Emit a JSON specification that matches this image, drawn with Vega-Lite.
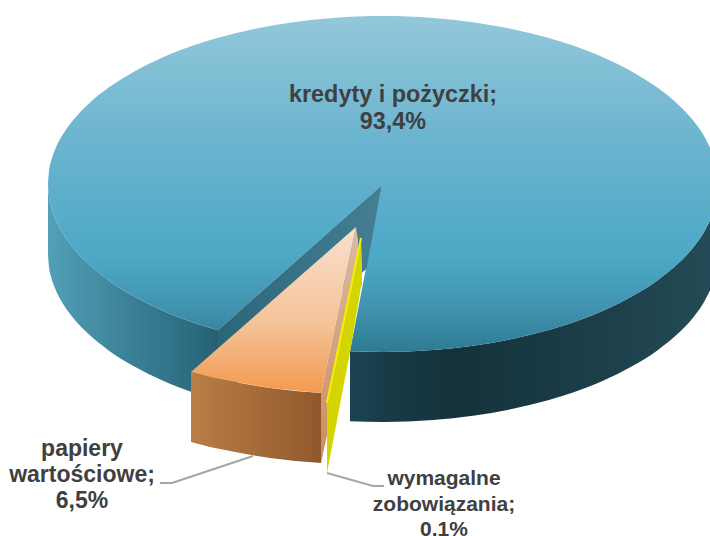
{
"$schema":"https://vega.github.io/schema/vega-lite/v6.json",
"width":710,"height":536,"padding":0,"autosize":{"type":"none"},"background":"white",
"config":{"view":{"stroke":null}},
"datasets":{
"leftWall":[{"x":48,"y":184,"y2":254},{"x":49,"y":197,"y2":267},{"x":51,"y":206.4,"y2":276.4},{"x":55,"y":218.2,"y2":288.2},{"x":63,"y":233.7,"y2":303.7},{"x":73,"y":247.7,"y2":317.7},{"x":88,"y":263.6,"y2":333.6},{"x":108,"y":279.9,"y2":349.9},{"x":133,"y":295.8,"y2":365.8},{"x":163,"y":310.7,"y2":380.7},{"x":193,"y":322.4,"y2":392.4},{"x":218,"y":330.2,"y2":400.2}],
"rightWall":[{"x":350,"y":351.2,"y2":421.2},{"x":383,"y":352,"y2":422},{"x":433,"y":350.1,"y2":420.1},{"x":473,"y":345.8,"y2":415.8},{"x":513,"y":338.8,"y2":408.8},{"x":548,"y":330.2,"y2":400.2},{"x":573,"y":322.4,"y2":392.4},{"x":603,"y":310.7,"y2":380.7},{"x":633,"y":295.8,"y2":365.8},{"x":658,"y":279.9,"y2":349.9},{"x":678,"y":263.6,"y2":333.6},{"x":693,"y":247.7,"y2":317.7},{"x":703,"y":233.7,"y2":303.7},{"x":710,"y":220.5,"y2":290.5}],
"topFace":[{"x":48,"y":184,"y2":184},{"x":49,"y":171,"y2":197},{"x":51,"y":161.6,"y2":206.4},{"x":55,"y":149.8,"y2":218.2},{"x":63,"y":134.3,"y2":233.7},{"x":73,"y":120.3,"y2":247.7},{"x":88,"y":104.4,"y2":263.6},{"x":108,"y":88.1,"y2":279.9},{"x":133,"y":72.2,"y2":295.8},{"x":163,"y":57.3,"y2":310.7},{"x":193,"y":45.6,"y2":322.4},{"x":218,"y":37.8,"y2":330.2},{"x":253,"y":29.2,"y2":338.8},{"x":293,"y":22.2,"y2":345.8},{"x":333,"y":17.9,"y2":350.1},{"x":383,"y":16,"y2":352},{"x":433,"y":17.9,"y2":350.1},{"x":473,"y":22.2,"y2":345.8},{"x":513,"y":29.2,"y2":338.8},{"x":548,"y":37.8,"y2":330.2},{"x":573,"y":45.6,"y2":322.4},{"x":603,"y":57.3,"y2":310.7},{"x":633,"y":72.2,"y2":295.8},{"x":658,"y":88.1,"y2":279.9},{"x":678,"y":104.4,"y2":263.6},{"x":693,"y":120.3,"y2":247.7},{"x":703,"y":134.3,"y2":233.7},{"x":710,"y":147.5,"y2":220.5}],
"gap":[{"x":218,"y":330.2,"y2":330.2},{"x":253,"y":299.2,"y2":338.8},{"x":293,"y":263.8,"y2":345.8},{"x":333,"y":228.4,"y2":350.1},{"x":350,"y":213.4,"y2":351.2},{"x":382,"y":185,"y2":185}],
"gapWall":[{"x":218,"y":330.2,"y2":400.2},{"x":366.5,"y":198.7,"y2":268.8},{"x":382,"y":185,"y2":185}],
"orangeFront":[{"x":191,"y":372,"y2":442},{"x":210,"y":377,"y2":447},{"x":230,"y":381,"y2":451},{"x":270,"y":388,"y2":458},{"x":321,"y":393,"y2":463}],
"orangeSide":[{"x":321,"y":393,"y2":463},{"x":327,"y":364.5,"y2":435},{"x":356,"y":227,"y2":262},{"x":358,"y":240,"y2":255}],
"orangeTop":[{"x":191,"y":372,"y2":372},{"x":210,"y":355.3,"y2":377},{"x":230,"y":337.7,"y2":381},{"x":270,"y":302.6,"y2":388},{"x":321,"y":257.8,"y2":393},{"x":356,"y":227,"y2":227}],
"yellowBody":[{"x":327,"y":403,"y2":473},{"x":350,"y":291.4,"y2":352},{"x":361,"y":238,"y2":287},{"x":362,"y":262,"y2":285}],
"yellowEdge":[{"x":327,"y":403},{"x":361,"y":238}],
"leaderLeft":[{"x":160,"y":483},{"x":172,"y":483},{"x":253,"y":456}],
"leaderRight":[{"x":327,"y":473},{"x":373,"y":486},{"x":384,"y":486}],
"labelA":[{"segment":"kredyty i pożyczki","share":93.4,"lines":["kredyty i pożyczki;","93,4%"],"x":393,"y":95}],
"labelB":[{"segment":"papiery wartościowe","share":6.5,"lines":["papiery","wartościowe;","6,5%"],"x":82,"y":449}],
"labelC":[{"segment":"wymagalne zobowiązania","share":0.1,"lines":["wymagalne","zobowiązania;","0.1%"],"x":444,"y":479}]
},
"encoding":{
"x":{"field":"x","type":"quantitative","scale":{"domain":[0,710],"nice":false,"zero":false},"axis":null},
"y":{"field":"y","type":"quantitative","scale":{"domain":[536,0],"nice":false,"zero":false},"axis":null}
},
"layer":[
{"data":{"name":"leaderLeft"},"mark":{"type":"line","color":"#a6a6a6","strokeWidth":2}},
{"data":{"name":"leftWall"},"mark":{"type":"area","orient":"vertical","interpolate":"monotone","color":{"gradient":"linear","x1":0,"y1":0,"x2":1,"y2":0,"stops":[{"offset":0,"color":"#52a0b8"},{"offset":0.45,"color":"#3c8298"},{"offset":0.85,"color":"#2c6c80"},{"offset":1,"color":"#285f70"}]}},"encoding":{"y2":{"field":"y2"}}},
{"data":{"name":"rightWall"},"mark":{"type":"area","orient":"vertical","interpolate":"monotone","color":{"gradient":"linear","x1":0,"y1":0,"x2":1,"y2":0,"stops":[{"offset":0,"color":"#1b4453"},{"offset":0.12,"color":"#173a46"},{"offset":0.3,"color":"#14323b"},{"offset":0.7,"color":"#1c3f4a"},{"offset":1,"color":"#244b57"}]}},"encoding":{"y2":{"field":"y2"}}},
{"data":{"name":"topFace"},"mark":{"type":"area","orient":"vertical","interpolate":"monotone","color":{"gradient":"linear","x1":0,"y1":0,"x2":0,"y2":1,"stops":[{"offset":0,"color":"#93c8da"},{"offset":0.35,"color":"#6db5cf"},{"offset":0.72,"color":"#4ca8c6"},{"offset":0.86,"color":"#4195b1"},{"offset":1,"color":"#2e7a92"}]}},"encoding":{"y2":{"field":"y2"}}},
{"data":{"name":"gap"},"mark":{"type":"area","orient":"vertical","color":"#ffffff"},"encoding":{"y2":{"field":"y2"}}},
{"data":{"name":"gapWall"},"mark":{"type":"area","orient":"vertical","color":{"gradient":"linear","x1":0,"y1":0,"x2":1,"y2":0,"stops":[{"offset":0,"color":"#2a6677"},{"offset":1,"color":"#457f95"}]}},"encoding":{"y2":{"field":"y2"}}},
{"data":{"name":"orangeFront"},"mark":{"type":"area","orient":"vertical","interpolate":"monotone","color":{"gradient":"linear","x1":0,"y1":0,"x2":1,"y2":0,"stops":[{"offset":0,"color":"#ba7d46"},{"offset":1,"color":"#8f592c"}]}},"encoding":{"y2":{"field":"y2"}}},
{"data":{"name":"orangeSide"},"mark":{"type":"area","orient":"vertical","color":{"gradient":"linear","x1":0,"y1":0,"x2":0,"y2":1,"stops":[{"offset":0,"color":"#dcbaa2"},{"offset":1,"color":"#c98d5c"}]}},"encoding":{"y2":{"field":"y2"}}},
{"data":{"name":"orangeTop"},"mark":{"type":"area","orient":"vertical","color":{"gradient":"linear","x1":0,"y1":0,"x2":0,"y2":1,"stops":[{"offset":0,"color":"#f9e0cd"},{"offset":0.55,"color":"#f5c59c"},{"offset":1,"color":"#f39a50"}]}},"encoding":{"y2":{"field":"y2"}}},
{"data":{"name":"yellowBody"},"mark":{"type":"area","orient":"vertical","color":"#d4d400"},"encoding":{"y2":{"field":"y2"}}},
{"data":{"name":"yellowEdge"},"mark":{"type":"line","color":"#f4f000","strokeWidth":2}},
{"data":{"name":"leaderRight"},"mark":{"type":"line","color":"#a6a6a6","strokeWidth":2}},
{"data":{"name":"labelA"},"mark":{"type":"text","font":"Liberation Sans","fontWeight":"bold","fontSize":23.4,"lineHeight":27,"color":"#404040","align":"center","baseline":"middle"},"encoding":{"text":{"field":"lines","type":"nominal"}}},
{"data":{"name":"labelB"},"mark":{"type":"text","font":"Liberation Sans","fontWeight":"bold","fontSize":23,"lineHeight":26,"color":"#404040","align":"center","baseline":"middle"},"encoding":{"text":{"field":"lines","type":"nominal"}}},
{"data":{"name":"labelC"},"mark":{"type":"text","font":"Liberation Sans","fontWeight":"bold","fontSize":21,"lineHeight":25.5,"color":"#404040","align":"center","baseline":"middle"},"encoding":{"text":{"field":"lines","type":"nominal"}}}
]
}
